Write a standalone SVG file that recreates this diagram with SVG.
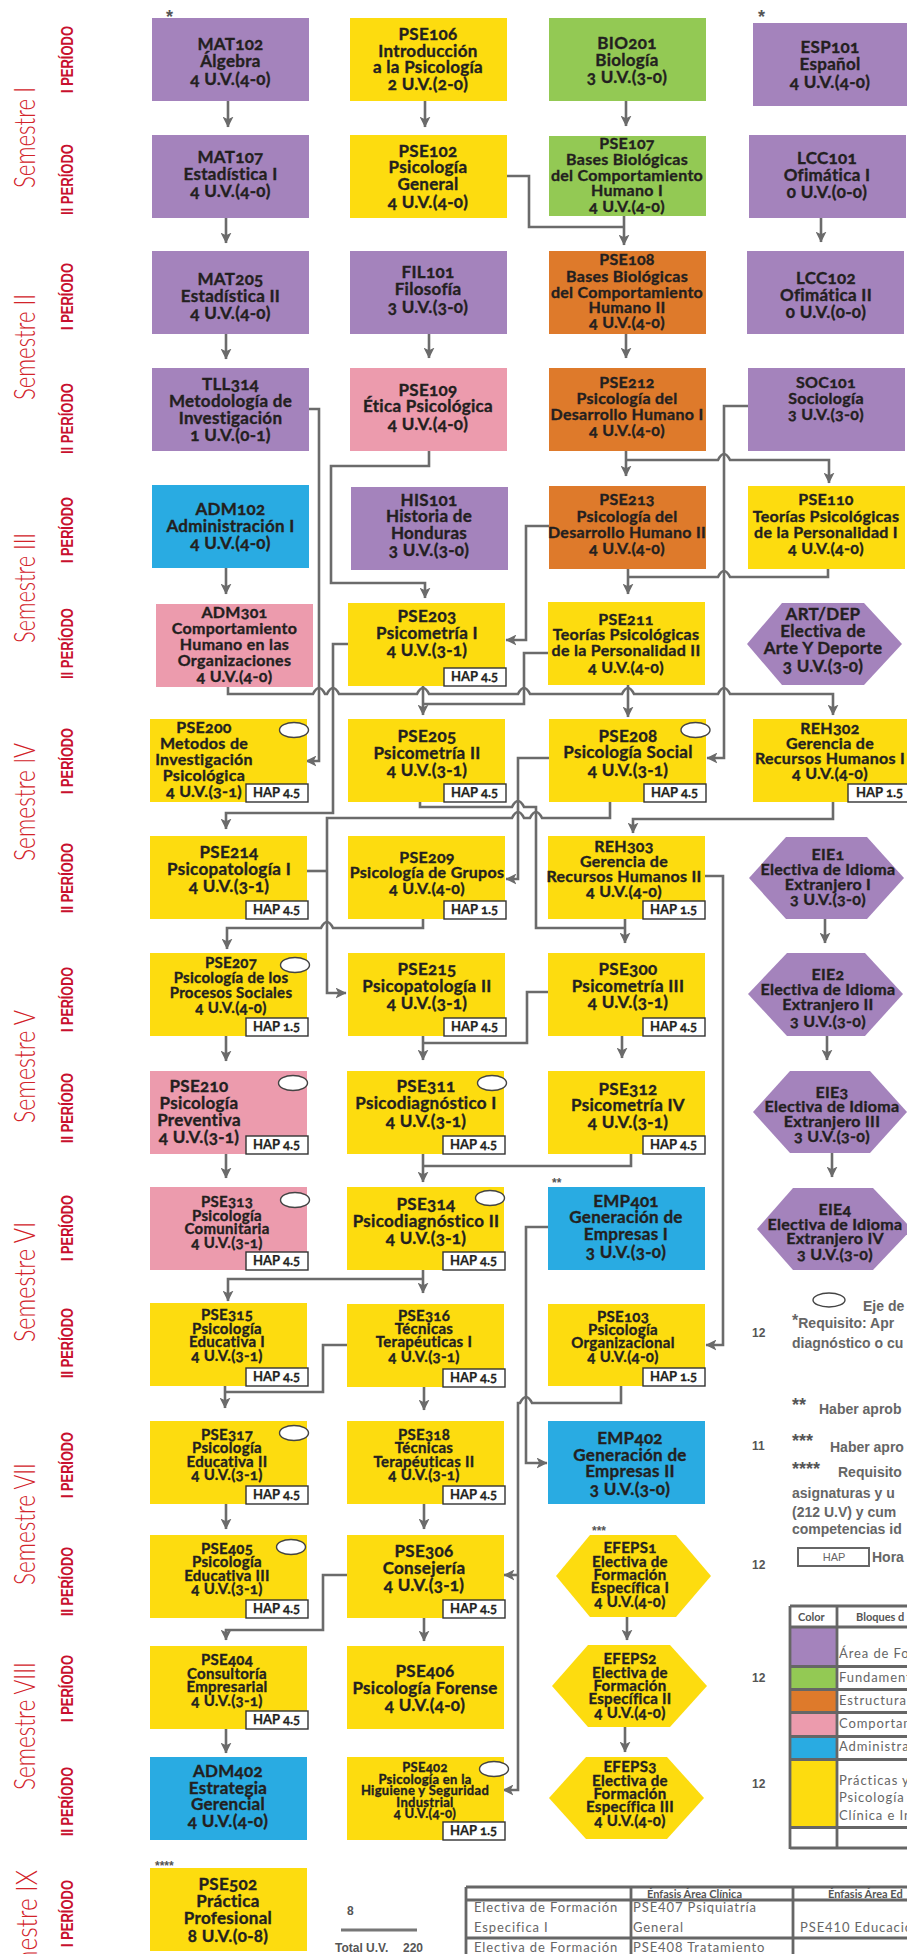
<svg xmlns="http://www.w3.org/2000/svg" width="907" height="1954" viewBox="0 0 907 1954">
<defs>
<style>
.pu{fill:#a483bc}.ye{fill:#fddc0f}.gr{fill:#93c954}.or{fill:#de7a2b}.pk{fill:#ec9bad}.bl{fill:#29abe2}
.n{font-family:Lato,'Open Sans',sans-serif;font-weight:700;fill:#231f20;stroke:#231f20;stroke-width:0.35px;text-anchor:middle;letter-spacing:0.3px;font-variant-numeric:oldstyle-nums}
.f17{font-size:17px}.f16{font-size:16px}.f15{font-size:15px}.f13{font-size:13px}
.hb{fill:#fff;stroke:#333;stroke-width:1.4}
.ht{font-family:Lato,sans-serif;font-weight:700;font-size:13px;fill:#231f20;stroke:#231f20;stroke-width:0.25px;font-variant-numeric:oldstyle-nums}
.el{fill:#fff;stroke:#444;stroke-width:1.4}
.c{fill:none;stroke:#6b6b6b;stroke-width:2.6}
.a{marker-end:url(#ah)}
.sem{font-family:Lato,'Liberation Sans',sans-serif;font-weight:300;font-size:30px;fill:#d2232a}
.per{font-family:'Liberation Sans',Arial,sans-serif;font-weight:700;font-size:16px;fill:#c8102e}
.lg{font-family:'Liberation Sans',Arial,sans-serif;font-weight:700;font-size:14px;fill:#666}
.num{font-family:'Liberation Sans',Arial,sans-serif;font-weight:700;font-size:12px;fill:#555}
.st{font-family:'Liberation Sans',Arial,sans-serif;font-weight:700;fill:#555}
.tb{font-family:Lato,'Open Sans',sans-serif;font-size:13px;fill:#666;letter-spacing:0.9px}
.th{font-family:Lato,sans-serif;font-weight:700;font-size:11px;fill:#555}
.gl{fill:none;stroke:#666;stroke-width:2.8}
</style>
<marker id="ah" viewBox="0 0 10 10" refX="9.5" refY="5" markerWidth="11" markerHeight="11" markerUnits="userSpaceOnUse" orient="auto">
<path d="M0,0 L10,5 L0,10 L2.5,5 z" fill="#6b6b6b"/>
</marker>
</defs>
<rect width="907" height="1954" fill="#fff"/>

<g id="labels">
<text class="sem" transform="translate(35,188) rotate(-90)" textLength="101" lengthAdjust="spacingAndGlyphs">Semestre I</text>
<text class="sem" transform="translate(35,400) rotate(-90)" textLength="106" lengthAdjust="spacingAndGlyphs">Semestre II</text>
<text class="sem" transform="translate(35,643) rotate(-90)" textLength="110" lengthAdjust="spacingAndGlyphs">Semestre III</text>
<text class="sem" transform="translate(35,861) rotate(-90)" textLength="118" lengthAdjust="spacingAndGlyphs">Semestre IV</text>
<text class="sem" transform="translate(35,1123) rotate(-90)" textLength="113" lengthAdjust="spacingAndGlyphs">Semestre V</text>
<text class="sem" transform="translate(35,1342) rotate(-90)" textLength="120" lengthAdjust="spacingAndGlyphs">Semestre VI</text>
<text class="sem" transform="translate(35,1585) rotate(-90)" textLength="122" lengthAdjust="spacingAndGlyphs">Semestre VII</text>
<text class="sem" transform="translate(35,1790) rotate(-90)" textLength="128" lengthAdjust="spacingAndGlyphs">Semestre VIII</text>
<text class="sem" transform="translate(37,1996) rotate(-90)" textLength="126" lengthAdjust="spacingAndGlyphs">Semestre IX</text>

<text class="per" transform="translate(73,93) rotate(-90)" textLength="67" lengthAdjust="spacingAndGlyphs">I PERÍODO</text>
<text class="per" transform="translate(73,215) rotate(-90)" textLength="71" lengthAdjust="spacingAndGlyphs">II PERÍODO</text>
<text class="per" transform="translate(73,330) rotate(-90)" textLength="67" lengthAdjust="spacingAndGlyphs">I PERÍODO</text>
<text class="per" transform="translate(73,454) rotate(-90)" textLength="71" lengthAdjust="spacingAndGlyphs">II PERÍODO</text>
<text class="per" transform="translate(73,563) rotate(-90)" textLength="66" lengthAdjust="spacingAndGlyphs">I PERÍODO</text>
<text class="per" transform="translate(73,679) rotate(-90)" textLength="71" lengthAdjust="spacingAndGlyphs">II PERÍODO</text>
<text class="per" transform="translate(73,794) rotate(-90)" textLength="66" lengthAdjust="spacingAndGlyphs">I PERÍODO</text>
<text class="per" transform="translate(73,913) rotate(-90)" textLength="70" lengthAdjust="spacingAndGlyphs">II PERÍODO</text>
<text class="per" transform="translate(73,1032) rotate(-90)" textLength="65" lengthAdjust="spacingAndGlyphs">I PERÍODO</text>
<text class="per" transform="translate(73,1143) rotate(-90)" textLength="70" lengthAdjust="spacingAndGlyphs">II PERÍODO</text>
<text class="per" transform="translate(73,1261) rotate(-90)" textLength="66" lengthAdjust="spacingAndGlyphs">I PERÍODO</text>
<text class="per" transform="translate(73,1378) rotate(-90)" textLength="70" lengthAdjust="spacingAndGlyphs">II PERÍODO</text>
<text class="per" transform="translate(73,1498) rotate(-90)" textLength="66" lengthAdjust="spacingAndGlyphs">I PERÍODO</text>
<text class="per" transform="translate(73,1616) rotate(-90)" textLength="69" lengthAdjust="spacingAndGlyphs">II PERÍODO</text>
<text class="per" transform="translate(73,1722) rotate(-90)" textLength="67" lengthAdjust="spacingAndGlyphs">I PERÍODO</text>
<text class="per" transform="translate(73,1836) rotate(-90)" textLength="69" lengthAdjust="spacingAndGlyphs">II PERÍODO</text>
<text class="per" transform="translate(73,1947) rotate(-90)" textLength="67" lengthAdjust="spacingAndGlyphs">I PERÍODO</text>
</g>

<g id="connectors">
<path class="c a" d="M228,101 V127"/>
<path class="c a" d="M226,218 V243"/>
<path class="c a" d="M226,334 V359"/>
<path class="c a" d="M226,568 V594"/>
<path class="c a" d="M309,409 H319 V761 H306"/>
<path class="c a" d="M228,687 V694 H313 Q319,682 325,694 H327 Q333,682 339,694 H417 Q423,682 429,694 H518 Q524,682 530,694 H622 Q628,682 634,694 H718 Q724,682 730,694 H833 V715"/>
<path class="c a" d="M423,685 V715"/>
<path class="c" d="M548,653 H524 V704 H423"/>
<path class="c a" d="M628,685 V717"/>
<path class="c a" d="M748,406 H724 V758 H707"/>
<path class="c a" d="M626,451 V476"/>
<path class="c a" d="M626,460 H718 Q724,448 730,460 H829 V483"/>
<path class="c a" d="M628,569 V594"/>
<path class="c" d="M828,569 V577 H730 Q724,565 718,577 H628"/>
<path class="c a" d="M549,526 H526 V640 H506"/>
<path class="c a" d="M429,451 V466 H331 V583 H425 V598"/>
<path class="c a" d="M348,644 H333 V813 H226 V829"/>
<path class="c a" d="M425,101 V127"/>
<path class="c" d="M507,176 H529 V227 H624"/>
<path class="c a" d="M624,216 V245"/>
<path class="c a" d="M626,101 V126"/>
<path class="c a" d="M821,218 V242"/>
<path class="c a" d="M429,334 V358"/>
<path class="c a" d="M626,334 V358"/>
<path class="c" d="M420,802 V807 H512 Q518,795 524,807 H536 V928 H625"/>
<path class="c a" d="M625,919 V943"/>
<path class="c a" d="M610,802 V818 H542 Q536,806 530,818 H524 Q518,806 512,818 H327 V993 H346"/>
<path class="c" d="M307,871 H327"/>
<path class="c a" d="M549,758 H518 V879 H506"/>
<path class="c a" d="M833,802 V819 H633 V833"/>
<path class="c a" d="M423,919 V928 H333 Q327,916 321,928 H227 V949"/>
<path class="c a" d="M705,876 H723 V1345 H706"/>
<path class="c a" d="M825,919 V943"/>
<path class="c a" d="M827,1036 V1060"/>
<path class="c a" d="M832,1153 V1177"/>
<path class="c a" d="M226,1036 V1061"/>
<path class="c a" d="M226,1154 V1178"/>
<path class="c a" d="M423,1036 V1060"/>
<path class="c" d="M548,992 H527 V1043 H423"/>
<path class="c a" d="M622,1036 V1058"/>
<path class="c a" d="M423,1154 V1182"/>
<path class="c" d="M631,1154 V1166 H423"/>
<path class="c a" d="M423,1270 V1293"/>
<path class="c a" d="M423,1279 H228 V1301"/>
<path class="c a" d="M225,1385 V1408"/>
<path class="c" d="M347,1345 H323 V1392 H225"/>
<path class="c a" d="M424,1387 V1410"/>
<path class="c a" d="M226,1504 V1529"/>
<path class="c a" d="M424,1504 V1529"/>
<path class="c a" d="M347,1575 H323 V1630 H226 V1640"/>
<path class="c a" d="M424,1617 V1641"/>
<path class="c a" d="M226,1729 V1753"/>
<path class="c a" d="M548,1227 H526 V1463 H547"/>
<path class="c a" d="M621,1386 V1403 H532 Q526,1391 520,1403 H518 V1790 H503"/>
<path class="c a" d="M518,1575 H504"/>
<path class="c a" d="M627,1617 V1640"/>
<path class="c a" d="M625,1727 V1752"/>
</g>

<!-- Column 1 -->
<g id="MAT102"><rect class="pu" x="152" y="18" width="157" height="83"/>
<text class="n f17" x="230.5" y="50">MAT102</text><text class="n f17" x="230.5" y="67">Álgebra</text><text class="n f17" x="230.5" y="85">4 U.V.(4-0)</text></g>
<g id="MAT107"><rect class="pu" x="152" y="135" width="157" height="83"/>
<text class="n f17" x="230.5" y="163">MAT107</text><text class="n f17" x="230.5" y="180">Estadística I</text><text class="n f17" x="230.5" y="197">4 U.V.(4-0)</text></g>
<g id="MAT205"><rect class="pu" x="152" y="251" width="157" height="83"/>
<text class="n f17" x="230.5" y="285">MAT205</text><text class="n f17" x="230.5" y="302">Estadística II</text><text class="n f17" x="230.5" y="319">4 U.V.(4-0)</text></g>
<g id="TLL314"><rect class="pu" x="152" y="368" width="157" height="83"/>
<text class="n f17" x="230.5" y="390">TLL314</text><text class="n f17" x="230.5" y="407">Metodología de</text><text class="n f17" x="230.5" y="424">Investigación</text><text class="n f17" x="230.5" y="441">1 U.V.(0-1)</text></g>
<g id="ADM102"><rect class="bl" x="152" y="485" width="157" height="83"/>
<text class="n f17" x="230.5" y="515">ADM102</text><text class="n f17" x="230.5" y="532">Administración I</text><text class="n f17" x="230.5" y="549">4 U.V.(4-0)</text></g>
<g id="ADM301"><rect class="pk" x="156" y="604" width="157" height="83"/>
<text class="n f16" x="234.5" y="618">ADM301</text><text class="n f16" x="234.5" y="634">Comportamiento</text><text class="n f16" x="234.5" y="650">Humano en las</text><text class="n f16" x="234.5" y="666">Organizaciones</text><text class="n f16" x="234.5" y="682">4 U.V.(4-0)</text></g>
<g id="PSE200"><rect class="ye" x="150" y="719" width="157" height="83"/>
<text class="n f16" x="204" y="733">PSE200</text><text class="n f16" x="204" y="749">Metodos de</text><text class="n f16" x="204" y="765">Investigación</text><text class="n f16" x="204" y="781">Psicológica</text><text class="n f16" x="204" y="797">4 U.V.(3-1)</text>
<rect class="hb" x="246" y="784" width="62" height="18"/><text class="ht" x="253" y="797">HAP 4.5</text>
<ellipse class="el" cx="294" cy="730" rx="14.5" ry="7.5"/></g>
<g id="PSE214"><rect class="ye" x="150" y="836" width="157" height="83"/>
<text class="n f17" x="229" y="858">PSE214</text><text class="n f17" x="229" y="875">Psicopatología I</text><text class="n f17" x="229" y="892">4 U.V.(3-1)</text>
<rect class="hb" x="246" y="901" width="62" height="18"/><text class="ht" x="253" y="914">HAP 4.5</text></g>
<g id="PSE207"><rect class="ye" x="150" y="953" width="157" height="83"/>
<text class="n f15" x="231" y="968">PSE207</text><text class="n f15" x="231" y="983">Psicología de los</text><text class="n f15" x="231" y="998">Procesos Sociales</text><text class="n f15" x="231" y="1013">4 U.V.(4-0)</text>
<rect class="hb" x="246" y="1018" width="62" height="18"/><text class="ht" x="253" y="1031">HAP 1.5</text>
<ellipse class="el" cx="295" cy="965" rx="14.5" ry="7.5"/></g>
<g id="PSE210"><rect class="pk" x="150" y="1071" width="157" height="83"/>
<text class="n f17" x="199" y="1092">PSE210</text><text class="n f17" x="199" y="1109">Psicología</text><text class="n f17" x="199" y="1126">Preventiva</text><text class="n f17" x="199" y="1143">4 U.V.(3-1)</text>
<rect class="hb" x="246" y="1136" width="62" height="18"/><text class="ht" x="253" y="1149">HAP 4.5</text>
<ellipse class="el" cx="293" cy="1083" rx="14.5" ry="7.5"/></g>
<g id="PSE313"><rect class="pk" x="150" y="1187" width="157" height="83"/>
<text class="n f15" x="227" y="1207">PSE313</text><text class="n f15" x="227" y="1221">Psicología</text><text class="n f15" x="227" y="1234">Comunitaria</text><text class="n f15" x="227" y="1248">4 U.V.(3-1)</text>
<rect class="hb" x="246" y="1252" width="62" height="18"/><text class="ht" x="253" y="1265">HAP 4.5</text>
<ellipse class="el" cx="295" cy="1200" rx="14.5" ry="7.5"/></g>
<g id="PSE315"><rect class="ye" x="150" y="1303" width="157" height="83"/>
<text class="n f15" x="227" y="1320">PSE315</text><text class="n f15" x="227" y="1334">Psicología</text><text class="n f15" x="227" y="1347">Educativa I</text><text class="n f15" x="227" y="1361">4 U.V.(3-1)</text>
<rect class="hb" x="246" y="1368" width="62" height="18"/><text class="ht" x="253" y="1381">HAP 4.5</text></g>
<g id="PSE317"><rect class="ye" x="150" y="1421" width="157" height="83"/>
<text class="n f15" x="227" y="1440">PSE317</text><text class="n f15" x="227" y="1453">Psicología</text><text class="n f15" x="227" y="1467">Educativa II</text><text class="n f15" x="227" y="1480">4 U.V.(3-1)</text>
<rect class="hb" x="246" y="1486" width="62" height="18"/><text class="ht" x="253" y="1499">HAP 4.5</text>
<ellipse class="el" cx="294" cy="1433" rx="14.5" ry="7.5"/></g>
<g id="PSE405"><rect class="ye" x="150" y="1535" width="157" height="83"/>
<text class="n f15" x="227" y="1554">PSE405</text><text class="n f15" x="227" y="1567">Psicología</text><text class="n f15" x="227" y="1581">Educativa III</text><text class="n f15" x="227" y="1594">4 U.V.(3-1)</text>
<rect class="hb" x="246" y="1600" width="62" height="18"/><text class="ht" x="253" y="1613">HAP 4.5</text>
<ellipse class="el" cx="291" cy="1547" rx="14.5" ry="7.5"/></g>
<g id="PSE404"><rect class="ye" x="150" y="1646" width="157" height="83"/>
<text class="n f15" x="227" y="1665">PSE404</text><text class="n f15" x="227" y="1679">Consultoría</text><text class="n f15" x="227" y="1692">Empresarial</text><text class="n f15" x="227" y="1706">4 U.V.(3-1)</text>
<rect class="hb" x="246" y="1711" width="62" height="18"/><text class="ht" x="253" y="1724">HAP 4.5</text></g>
<g id="ADM402"><rect class="bl" x="150" y="1757" width="157" height="83"/>
<text class="n f17" x="228" y="1777">ADM402</text><text class="n f17" x="228" y="1794">Estrategia</text><text class="n f17" x="228" y="1810">Gerencial</text><text class="n f17" x="228" y="1827">4 U.V.(4-0)</text></g>
<g id="PSE502"><rect class="ye" x="150" y="1868" width="157" height="83"/>
<text class="n f17" x="228" y="1890">PSE502</text><text class="n f17" x="228" y="1907">Práctica</text><text class="n f17" x="228" y="1924">Profesional</text><text class="n f17" x="228" y="1942">8 U.V.(0-8)</text></g>

<!-- Column 2 -->
<g id="PSE106"><rect class="ye" x="350" y="18" width="157" height="83"/>
<text class="n f17" x="428" y="40">PSE106</text><text class="n f17" x="428" y="57">Introducción</text><text class="n f17" x="428" y="73">a la Psicología</text><text class="n f17" x="428" y="90">2 U.V.(2-0)</text></g>
<g id="PSE102"><rect class="ye" x="350" y="135" width="157" height="83"/>
<text class="n f17" x="428" y="157">PSE102</text><text class="n f17" x="428" y="173">Psicología</text><text class="n f17" x="428" y="190">General</text><text class="n f17" x="428" y="208">4 U.V.(4-0)</text></g>
<g id="FIL101"><rect class="pu" x="350" y="251" width="157" height="83"/>
<text class="n f17" x="428" y="278">FIL101</text><text class="n f17" x="428" y="295">Filosofía</text><text class="n f17" x="428" y="313">3 U.V.(3-0)</text></g>
<g id="PSE109"><rect class="pk" x="350" y="368" width="157" height="83"/>
<text class="n f17" x="428" y="396">PSE109</text><text class="n f17" x="428" y="412">Ética Psicológica</text><text class="n f17" x="428" y="430">4 U.V.(4-0)</text></g>
<g id="HIS101"><rect class="pu" x="351" y="487" width="157" height="83"/>
<text class="n f17" x="429" y="506">HIS101</text><text class="n f17" x="429" y="522">Historia de</text><text class="n f17" x="429" y="539">Honduras</text><text class="n f17" x="429" y="556">3 U.V.(3-0)</text></g>
<g id="PSE203"><rect class="ye" x="348" y="603" width="157" height="83"/>
<text class="n f17" x="427" y="622">PSE203</text><text class="n f17" x="427" y="639">Psicometría I</text><text class="n f17" x="427" y="656">4 U.V.(3-1)</text>
<rect class="hb" x="444" y="668" width="62" height="18"/><text class="ht" x="451" y="681">HAP 4.5</text></g>
<g id="PSE205"><rect class="ye" x="348" y="719" width="157" height="83"/>
<text class="n f17" x="427" y="742">PSE205</text><text class="n f17" x="427" y="759">Psicometría II</text><text class="n f17" x="427" y="776">4 U.V.(3-1)</text>
<rect class="hb" x="444" y="784" width="62" height="18"/><text class="ht" x="451" y="797">HAP 4.5</text></g>
<g id="PSE209"><rect class="ye" x="348" y="836" width="157" height="83"/>
<text class="n f16" x="427" y="863">PSE209</text><text class="n f16" x="427" y="878">Psicología de Grupos</text><text class="n f16" x="427" y="894">4 U.V.(4-0)</text>
<rect class="hb" x="444" y="901" width="62" height="18"/><text class="ht" x="451" y="914">HAP 1.5</text></g>
<g id="PSE215"><rect class="ye" x="348" y="953" width="157" height="83"/>
<text class="n f17" x="427" y="975">PSE215</text><text class="n f17" x="427" y="992">Psicopatología II</text><text class="n f17" x="427" y="1009">4 U.V.(3-1)</text>
<rect class="hb" x="444" y="1018" width="62" height="18"/><text class="ht" x="451" y="1031">HAP 4.5</text></g>
<g id="PSE311"><rect class="ye" x="347" y="1071" width="157" height="83"/>
<text class="n f17" x="426" y="1092">PSE311</text><text class="n f17" x="426" y="1109">Psicodiagnóstico I</text><text class="n f17" x="426" y="1127">4 U.V.(3-1)</text>
<rect class="hb" x="443" y="1136" width="62" height="18"/><text class="ht" x="450" y="1149">HAP 4.5</text>
<ellipse class="el" cx="492" cy="1083" rx="14.5" ry="7.5"/></g>
<g id="PSE314"><rect class="ye" x="347" y="1187" width="157" height="83"/>
<text class="n f17" x="426" y="1210">PSE314</text><text class="n f17" x="426" y="1227">Psicodiagnóstico II</text><text class="n f17" x="426" y="1244">4 U.V.(3-1)</text>
<rect class="hb" x="443" y="1252" width="62" height="18"/><text class="ht" x="450" y="1265">HAP 4.5</text>
<ellipse class="el" cx="490" cy="1198" rx="14.5" ry="7.5"/></g>
<g id="PSE316"><rect class="ye" x="347" y="1304" width="157" height="83"/>
<text class="n f15" x="424" y="1321">PSE316</text><text class="n f15" x="424" y="1334">Técnicas</text><text class="n f15" x="424" y="1347">Terapéuticas I</text><text class="n f15" x="424" y="1362">4 U.V.(3-1)</text>
<rect class="hb" x="443" y="1369" width="62" height="18"/><text class="ht" x="450" y="1382">HAP 4.5</text></g>
<g id="PSE318"><rect class="ye" x="347" y="1421" width="157" height="83"/>
<text class="n f15" x="424" y="1440">PSE318</text><text class="n f15" x="424" y="1453">Técnicas</text><text class="n f15" x="424" y="1467">Terapéuticas II</text><text class="n f15" x="424" y="1480">4 U.V.(3-1)</text>
<rect class="hb" x="443" y="1486" width="62" height="18"/><text class="ht" x="450" y="1499">HAP 4.5</text></g>
<g id="PSE306"><rect class="ye" x="347" y="1535" width="157" height="83"/>
<text class="n f17" x="424" y="1557">PSE306</text><text class="n f17" x="424" y="1574">Consejería</text><text class="n f17" x="424" y="1591">4 U.V.(3-1)</text>
<rect class="hb" x="443" y="1600" width="62" height="18"/><text class="ht" x="450" y="1613">HAP 4.5</text></g>
<g id="PSE406"><rect class="ye" x="347" y="1646" width="157" height="83"/>
<text class="n f17" x="425" y="1677">PSE406</text><text class="n f17" x="425" y="1694">Psicología Forense</text><text class="n f17" x="425" y="1711">4 U.V.(4-0)</text></g>
<g id="PSE402"><rect class="ye" x="347" y="1757" width="157" height="83"/>
<text class="n f13" x="425" y="1772">PSE402</text><text class="n f13" x="425" y="1784">Psicología en la</text><text class="n f13" x="425" y="1795">Higuiene y Seguridad</text><text class="n f13" x="425" y="1807">Industrial</text><text class="n f13" x="425" y="1818">4 U.V.(4-0)</text>
<rect class="hb" x="443" y="1822" width="62" height="18"/><text class="ht" x="450" y="1835">HAP 1.5</text>
<ellipse class="el" cx="494" cy="1769" rx="14.5" ry="7.5"/></g>

<!-- Column 3 -->
<g id="BIO201"><rect class="gr" x="549" y="18" width="157" height="83"/>
<text class="n f17" x="627" y="49">BIO201</text><text class="n f17" x="627" y="66">Biología</text><text class="n f17" x="627" y="83">3 U.V.(3-0)</text></g>
<g id="PSE107"><rect class="gr" x="549" y="136" width="157" height="80"/>
<text class="n f16" x="627" y="149">PSE107</text><text class="n f16" x="627" y="165">Bases Biológicas</text><text class="n f16" x="627" y="181">del Comportamiento</text><text class="n f16" x="627" y="196">Humano I</text><text class="n f16" x="627" y="212">4 U.V.(4-0)</text></g>
<g id="PSE108"><rect class="or" x="549" y="251" width="157" height="83"/>
<text class="n f16" x="627" y="265">PSE108</text><text class="n f16" x="627" y="282">Bases Biológicas</text><text class="n f16" x="627" y="298">del Comportamiento</text><text class="n f16" x="627" y="313">Humano II</text><text class="n f16" x="627" y="328">4 U.V.(4-0)</text></g>
<g id="PSE212"><rect class="or" x="549" y="368" width="157" height="83"/>
<text class="n f16" x="627" y="388">PSE212</text><text class="n f16" x="627" y="404">Psicología del</text><text class="n f16" x="627" y="420">Desarrollo Humano I</text><text class="n f16" x="627" y="436">4 U.V.(4-0)</text></g>
<g id="PSE213"><rect class="or" x="549" y="486" width="157" height="83"/>
<text class="n f16" x="627" y="505">PSE213</text><text class="n f16" x="627" y="522">Psicología del</text><text class="n f16" x="627" y="538">Desarrollo Humano II</text><text class="n f16" x="627" y="554">4 U.V.(4-0)</text></g>
<g id="PSE211"><rect class="ye" x="548" y="602" width="157" height="83"/>
<text class="n f16" x="626" y="625">PSE211</text><text class="n f16" x="626" y="640">Teorías Psicológicas</text><text class="n f16" x="626" y="656">de la Personalidad II</text><text class="n f16" x="626" y="673">4 U.V.(4-0)</text></g>
<g id="PSE208"><rect class="ye" x="549" y="719" width="157" height="83"/>
<text class="n f17" x="628" y="742">PSE208</text><text class="n f17" x="628" y="758">Psicología Social</text><text class="n f17" x="628" y="776">4 U.V.(3-1)</text>
<rect class="hb" x="644" y="784" width="62" height="18"/><text class="ht" x="651" y="797">HAP 4.5</text>
<ellipse class="el" cx="695.5" cy="730" rx="14.5" ry="7.5"/></g>
<g id="REH303"><rect class="ye" x="548" y="836" width="157" height="83"/>
<text class="n f16" x="624" y="852">REH303</text><text class="n f16" x="624" y="867">Gerencia de</text><text class="n f16" x="624" y="882">Recursos Humanos II</text><text class="n f16" x="624" y="897">4 U.V.(4-0)</text>
<rect class="hb" x="643" y="901" width="62" height="18"/><text class="ht" x="650" y="914">HAP 1.5</text></g>
<g id="PSE300"><rect class="ye" x="548" y="953" width="157" height="83"/>
<text class="n f17" x="628" y="975">PSE300</text><text class="n f17" x="628" y="992">Psicometría III</text><text class="n f17" x="628" y="1008">4 U.V.(3-1)</text>
<rect class="hb" x="643" y="1018" width="62" height="18"/><text class="ht" x="650" y="1031">HAP 4.5</text></g>
<g id="PSE312"><rect class="ye" x="548" y="1071" width="157" height="83"/>
<text class="n f17" x="628" y="1095">PSE312</text><text class="n f17" x="628" y="1111">Psicometría IV</text><text class="n f17" x="628" y="1128">4 U.V.(3-1)</text>
<rect class="hb" x="643" y="1136" width="62" height="18"/><text class="ht" x="650" y="1149">HAP 4.5</text></g>
<g id="EMP401"><rect class="bl" x="548" y="1187" width="157" height="83"/>
<text class="n f17" x="626" y="1207">EMP401</text><text class="n f17" x="626" y="1223">Generación de</text><text class="n f17" x="626" y="1240">Empresas I</text><text class="n f17" x="626" y="1258">3 U.V.(3-0)</text></g>
<g id="PSE103"><rect class="ye" x="548" y="1304" width="157" height="82"/>
<text class="n f15" x="623" y="1322">PSE103</text><text class="n f15" x="623" y="1335">Psicología</text><text class="n f15" x="623" y="1348">Organizacional</text><text class="n f15" x="623" y="1362">4 U.V.(4-0)</text>
<rect class="hb" x="643" y="1368" width="62" height="18"/><text class="ht" x="650" y="1381">HAP 1.5</text></g>
<g id="EMP402"><rect class="bl" x="548" y="1421" width="157" height="83"/>
<text class="n f17" x="630" y="1444">EMP402</text><text class="n f17" x="630" y="1461">Generación de</text><text class="n f17" x="630" y="1477">Empresas II</text><text class="n f17" x="630" y="1495">3 U.V.(3-0)</text></g>
<g id="EFEPS1"><polygon class="ye" points="556,1576 590,1535 676,1535 711,1576 676,1617 590,1617"/>
<text class="n f15" x="630" y="1553">EFEPS1</text><text class="n f15" x="630" y="1567">Electiva de</text><text class="n f15" x="630" y="1580">Formación</text><text class="n f15" x="630" y="1593">Específica I</text><text class="n f15" x="630" y="1607">4 U.V.(4-0)</text></g>
<g id="EFEPS2"><polygon class="ye" points="552,1686 588,1645 670,1645 707,1686 670,1727 588,1727"/>
<text class="n f15" x="630" y="1664">EFEPS2</text><text class="n f15" x="630" y="1678">Electiva de</text><text class="n f15" x="630" y="1691">Formación</text><text class="n f15" x="630" y="1704">Específica II</text><text class="n f15" x="630" y="1718">4 U.V.(4-0)</text></g>
<g id="EFEPS3"><polygon class="ye" points="549,1798 586,1757 667,1757 704,1798 667,1839 586,1839"/>
<text class="n f15" x="630" y="1772">EFEPS3</text><text class="n f15" x="630" y="1786">Electiva de</text><text class="n f15" x="630" y="1799">Formación</text><text class="n f15" x="630" y="1812">Específica III</text><text class="n f15" x="630" y="1826">4 U.V.(4-0)</text></g>

<!-- Column 4 -->
<g id="ESP101"><rect class="pu" x="753" y="23" width="157" height="83"/>
<text class="n f17" x="830" y="53">ESP101</text><text class="n f17" x="830" y="70">Español</text><text class="n f17" x="830" y="88">4 U.V.(4-0)</text></g>
<g id="LCC101"><rect class="pu" x="749" y="135" width="157" height="83"/>
<text class="n f17" x="827" y="164">LCC101</text><text class="n f17" x="827" y="181">Ofimática I</text><text class="n f17" x="827" y="198">0 U.V.(0-0)</text></g>
<g id="LCC102"><rect class="pu" x="747" y="251" width="157" height="83"/>
<text class="n f17" x="826" y="284">LCC102</text><text class="n f17" x="826" y="301">Ofimática II</text><text class="n f17" x="826" y="318">0 U.V.(0-0)</text></g>
<g id="SOC101"><rect class="pu" x="748" y="368" width="157" height="83"/>
<text class="n f16" x="826" y="388">SOC101</text><text class="n f16" x="826" y="404">Sociología</text><text class="n f16" x="826" y="420">3 U.V.(3-0)</text></g>
<g id="PSE110"><rect class="ye" x="748" y="486" width="157" height="83"/>
<text class="n f16" x="826" y="505">PSE110</text><text class="n f16" x="826" y="522">Teorías Psicológicas</text><text class="n f16" x="826" y="538">de la Personalidad I</text><text class="n f16" x="826" y="554">4 U.V.(4-0)</text></g>
<g id="ARTDEP"><polygon class="pu" points="747,644 782,603 864,603 902,644 864,685 782,685"/>
<text class="n f17" x="823" y="620">ART/DEP</text><text class="n f17" x="823" y="637">Electiva de</text><text class="n f17" x="823" y="654">Arte Y Deporte</text><text class="n f17" x="823" y="672">3 U.V.(3-0)</text></g>
<g id="REH302"><rect class="ye" x="753" y="719" width="157" height="83"/>
<text class="n f16" x="830" y="734">REH302</text><text class="n f16" x="830" y="749">Gerencia de</text><text class="n f16" x="830" y="764">Recursos Humanos I</text><text class="n f16" x="830" y="779">4 U.V.(4-0)</text>
<rect class="hb" x="848" y="784" width="62" height="18"/><text class="ht" x="856" y="797">HAP 1.5</text></g>
<g id="EIE1"><polygon class="pu" points="749,878 786,837 867,837 904,878 867,919 786,919"/>
<text class="n f16" x="828" y="860">EIE1</text><text class="n f16" x="828" y="875">Electiva de Idioma</text><text class="n f16" x="828" y="890">Extranjero I</text><text class="n f16" x="828" y="905">3 U.V.(3-0)</text></g>
<g id="EIE2"><polygon class="pu" points="748,994 787,953 865,953 903,994 865,1036 787,1036"/>
<text class="n f16" x="828" y="980">EIE2</text><text class="n f16" x="828" y="995">Electiva de Idioma</text><text class="n f16" x="828" y="1010">Extranjero II</text><text class="n f16" x="828" y="1027">3 U.V.(3-0)</text></g>
<g id="EIE3"><polygon class="pu" points="753,1112 790,1071 870,1071 907,1112 870,1153 790,1153"/>
<text class="n f16" x="832" y="1098">EIE3</text><text class="n f16" x="832" y="1112">Electiva de Idioma</text><text class="n f16" x="832" y="1127">Extranjero III</text><text class="n f16" x="832" y="1142">3 U.V.(3-0)</text></g>
<g id="EIE4"><polygon class="pu" points="757,1229 793,1188 873,1188 912,1229 873,1270 793,1270"/>
<text class="n f16" x="835" y="1215">EIE4</text><text class="n f16" x="835" y="1230">Electiva de Idioma</text><text class="n f16" x="835" y="1244">Extranjero IV</text><text class="n f16" x="835" y="1260">3 U.V.(3-0)</text></g>

<g id="marks">
<text class="st" x="166" y="23" font-size="18">*</text>
<text class="st" x="758" y="23" font-size="18">*</text>
<text class="st" x="552" y="1187" font-size="12" fill="#333">**</text>
<text class="st" x="592" y="1535" font-size="12" fill="#333">***</text>
<text class="st" x="155" y="1870" font-size="12" fill="#333">****</text>
</g>

<g id="legend">
<ellipse class="el" cx="829" cy="1300" rx="16" ry="7"/>
<text class="lg" x="863" y="1311">Eje de</text>
<text class="lg" x="792" y="1328"><tspan font-size="16" dy="-2">*</tspan><tspan dy="2">Requisito: Apr</tspan></text>
<text class="lg" x="792" y="1348">diagnóstico o cu</text>
<text class="num" x="752" y="1337">12</text>
<text class="st" x="792" y="1411" font-size="18" fill="#222">**</text>
<text class="lg" x="819" y="1414">Haber aprob</text>
<text class="num" x="752" y="1450">11</text>
<text class="st" x="792" y="1447" font-size="18" fill="#666">***</text>
<text class="lg" x="830" y="1452">Haber apro</text>
<text class="st" x="792" y="1475" font-size="18" fill="#666">****</text>
<text class="lg" x="838" y="1477">Requisito</text>
<text class="lg" x="792" y="1498">asignaturas y u</text>
<text class="lg" x="792" y="1517">(212 U.V) y cum</text>
<text class="lg" x="792" y="1534">competencias id</text>
<rect x="798" y="1548" width="71" height="18" fill="#fff" stroke="#666" stroke-width="2"/>
<text x="834" y="1561" font-family="'Liberation Sans',Arial,sans-serif" font-size="11" fill="#666" text-anchor="middle">HAP</text>
<text class="lg" x="872" y="1562">Hora</text>
<text class="num" x="752" y="1569">12</text>
<text class="num" x="752" y="1682">12</text>
<text class="num" x="752" y="1788">12</text>

<rect class="pu" x="791" y="1628" width="45" height="37"/>
<rect class="gr" x="791" y="1668" width="45" height="20"/>
<rect class="or" x="791" y="1691" width="45" height="20"/>
<rect class="pk" x="791" y="1714" width="45" height="21"/>
<rect class="bl" x="791" y="1738" width="45" height="20"/>
<rect class="ye" x="791" y="1761" width="45" height="65"/>
<path class="gl" d="M790,1606 H910 M790,1627 H910 M790,1666.5 H910 M790,1689.5 H910 M790,1712.5 H910 M790,1736.5 H910 M790,1759.5 H910 M790,1827.5 H910 M790,1848 H910 M790,1606 V1849 M837,1606 V1849"/>
<text class="th" x="798" y="1621" font-size="12">Color</text>
<text class="th" x="856" y="1621" font-size="12">Bloques d</text>
<text class="tb" x="839" y="1658">Área de For</text>
<text class="tb" x="839" y="1682">Fundament</text>
<text class="tb" x="839" y="1705">Estructura y</text>
<text class="tb" x="839" y="1728">Comportam</text>
<text class="tb" x="839" y="1751">Administrac</text>
<text class="tb" x="839" y="1785">Prácticas y P</text>
<text class="tb" x="839" y="1802">Psicología S</text>
<text class="tb" x="839" y="1820">Clínica e Inc</text>
</g>

<g id="totals">
<text class="num" x="347" y="1915">8</text>
<path d="M341,1930 H417" stroke="#777" stroke-width="3"/>
<text class="num" x="335" y="1952" font-size="11">Total U.V.</text>
<text class="num" x="403" y="1952" font-size="11">220</text>
</g>

<g id="table">
<path class="gl" d="M466,1887 H910 M466,1900 H910 M466,1938 H910 M466,1887 V1956 M631,1887 V1956 M793,1887 V1956"/>
<text class="th" x="647" y="1898">Énfasis Área Clínica</text>
<text class="th" x="828" y="1898">Énfasis Área  Ed</text>
<text class="tb" x="474" y="1912">Electiva de Formación</text>
<text class="tb" x="474" y="1932">Especifica I</text>
<text class="tb" x="633" y="1912">PSE407 Psiquiatría</text>
<text class="tb" x="633" y="1932">General</text>
<text class="tb" x="800" y="1932">PSE410 Educació</text>
<text class="tb" x="474" y="1952">Electiva de Formación</text>
<text class="tb" x="633" y="1952">PSE408 Tratamiento</text>
</g>
</svg>
